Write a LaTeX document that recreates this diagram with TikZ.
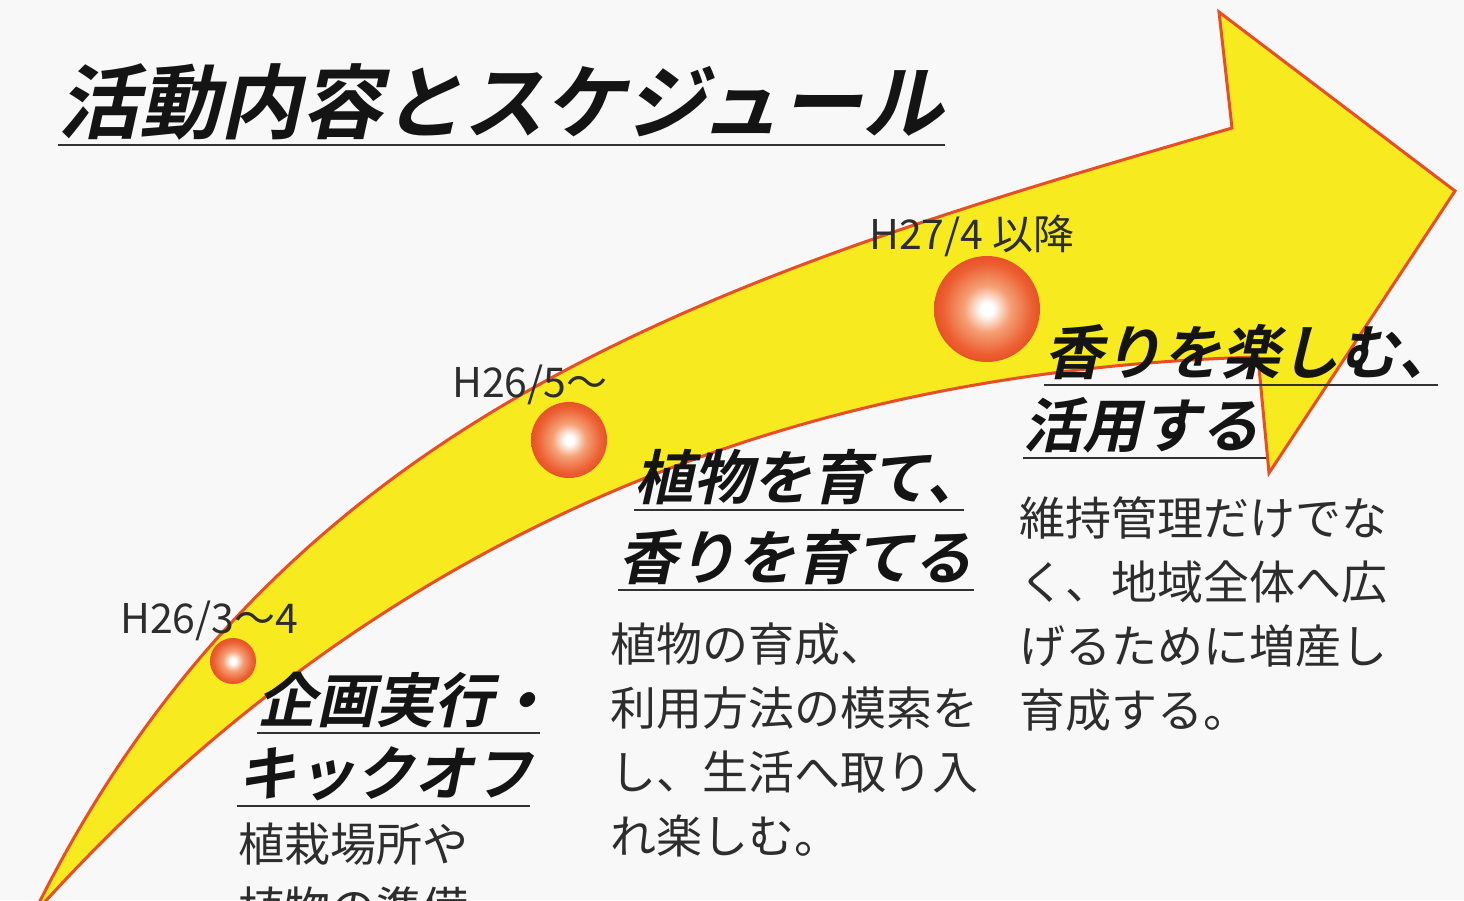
\documentclass[tikz,border=0pt]{standalone}
\usepackage{fontspec}
\setmainfont{Noto Sans CJK JP}
\IfFontExistsTF{Noto Sans CJK JP Bold}
  {\newfontfamily\headfont[FakeSlant=0.22]{Noto Sans CJK JP Bold}}
  {\newfontfamily\headfont[FakeSlant=0.22,FakeBold=2]{Noto Sans CJK JP}}
\newfontfamily\bodyfont{Noto Sans CJK JP}

\definecolor{paper}{RGB}{248,248,248}
\definecolor{bandyellow}{RGB}{247,235,32}
\definecolor{bandred}{RGB}{232,78,38}
\definecolor{orbedge}{RGB}{225,60,26}
\definecolor{orbmid}{RGB}{236,96,50}
\definecolor{orblight}{RGB}{245,160,118}
\definecolor{inkgray}{RGB}{45,45,45}
\pgfdeclareradialshading{orb}{\pgfpoint{0bp}{0bp}}{color(0bp)=(white); color(3bp)=(white); color(11bp)=(orblight); color(21bp)=(orbmid); color(31bp)=(orbedge); color(50bp)=(orbedge)}

\tikzset{
  band/.style={fill=bandyellow, draw=bandred, line width=3pt, line join=miter},
  orb/.style={circle, inner sep=0pt, shade, shading=orb},
  datelabel/.style={font=\bodyfont\fontsize{41}{48}\selectfont, text=inkgray, inner sep=0pt, anchor=base west},
  headline/.style={font=\headfont\fontsize{59}{66}\selectfont, text=black!92, inner sep=0pt, anchor=base west},
  bodytext/.style={font=\bodyfont\fontsize{46}{64}\selectfont, text=inkgray, inner sep=0pt, anchor=north west, align=left},
  uline/.style={draw=black!80, line width=2.5pt}
}

\begin{document}
\begin{tikzpicture}[x=1pt,y=-1pt]
  \fill[paper] (0,0) rectangle (1464,900);
  \useasboundingbox (0,0) rectangle (1464,900);

  % curved arrow
  \draw[band] (38,905) .. controls (288,405) and (732,273) .. (1232,128)
    -- (1219,12) -- (1455,191) -- (1269,473) -- (1258,357)
    .. controls (808,370) and (392,520) .. (42,905) -- cycle;

  % milestones
  \node[orb, minimum size=46pt] (orbA) at (233,661) {};
  \node[orb, minimum size=76pt] (orbB) at (569,440) {};
  \node[orb, minimum size=106pt] (orbC) at (987,309) {};

  \node[datelabel] (dateA) at (120,633) {H26/3〜4};
  \node[datelabel] (dateB) at (452,397) {H26/5〜};
  \node[datelabel] (dateC) at (869,249) {H27/4 以降};

  % title
  \node[headline, font=\headfont\fontsize{81}{90}\selectfont] (title) at (58,132) {活動内容とスケジュール};
  \draw[uline] ([yshift=-13pt]title.base west) -- +(887,0);

  % step 1
  \node[headline] (kickA) at (257,722) {企画実行・};
  \draw[uline] ([yshift=-11pt]kickA.base west) -- +(283,0);
  \node[headline] (kickB) at (237,795) {キックオフ};
  \draw[uline] ([yshift=-11pt]kickB.base west) -- +(293,0);
  \node[bodytext] (noteA) at (238,823) {植栽場所や\\植物の準備};

  % step 2
  \node[headline] (growA) at (634,499) {植物を育て、};
  \draw[uline] ([yshift=-11pt]growA.base west) -- +(330,0);
  \node[headline] (growB) at (618,579) {香りを育てる};
  \draw[uline] ([yshift=-11pt]growB.base west) -- +(356,0);
  \node[bodytext] (noteB) at (610,623) {植物の育成、\\利用方法の模索を\\し、生活へ取り入\\れ楽しむ。};

  % step 3
  \node[headline] (enjoyA) at (1044,374) {香りを楽しむ、};
  \draw[uline] ([yshift=-11pt]enjoyA.base west) -- +(394,0);
  \node[headline] (enjoyB) at (1023,447) {活用する};
  \draw[uline] ([yshift=-11pt]enjoyB.base west) -- +(243,0);
  \node[bodytext] (noteC) at (1019,496) {維持管理だけでな\\く、地域全体へ広\\げるために増産し\\育成する。};
\end{tikzpicture}
\end{document}
